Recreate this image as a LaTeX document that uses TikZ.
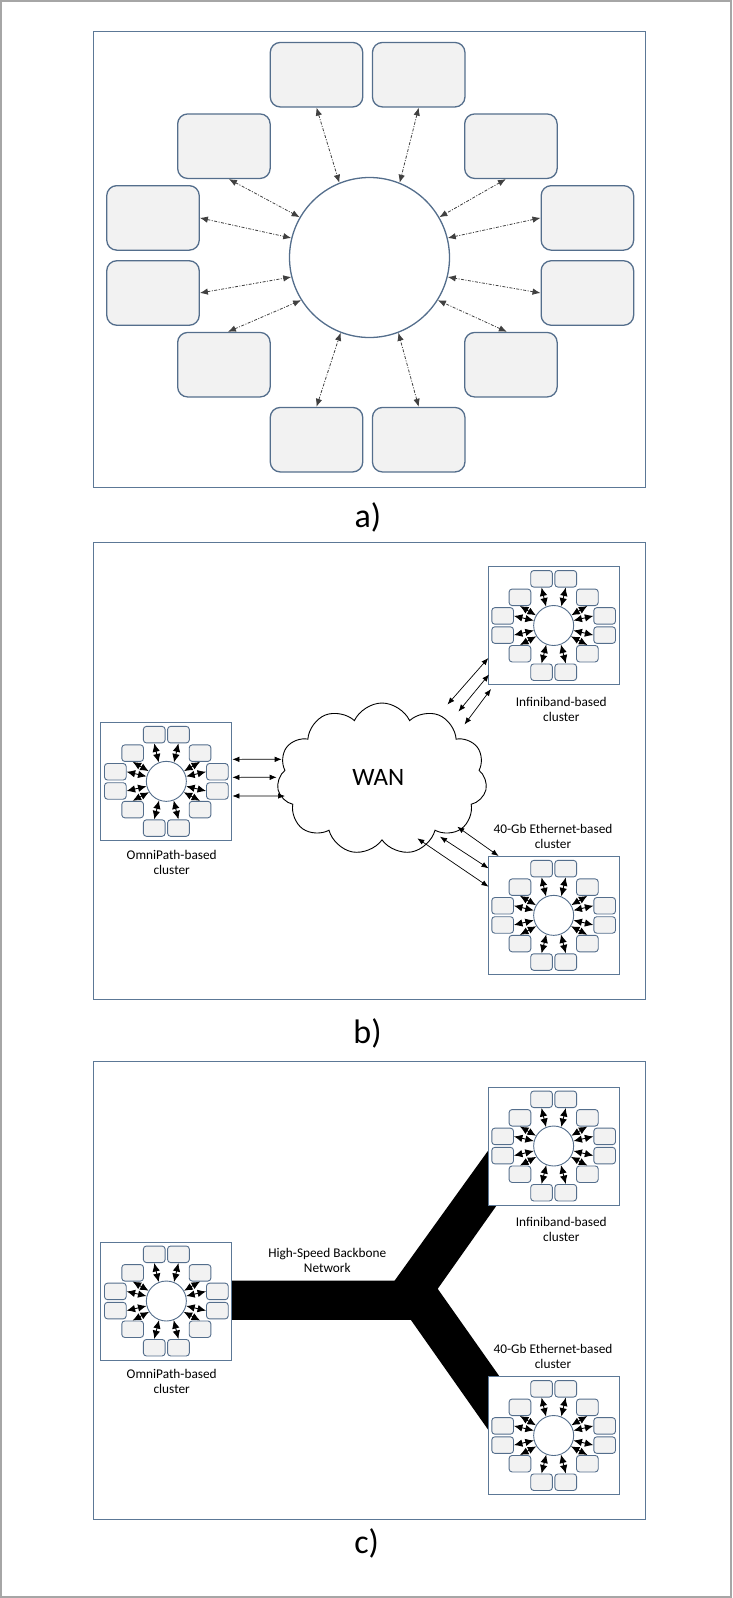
\documentclass[tikz,border=0pt]{standalone}
\usepackage{fontspec}
\setmainfont{Carlito}
\usetikzlibrary{arrows.meta,shapes.geometric,shapes.symbols,calc}

\definecolor{boxblue}{RGB}{84,110,140}
\definecolor{framec}{RGB}{92,120,150}
\definecolor{boxfill}{RGB}{242,242,242}

\tikzset{
 bigbox/.style={draw=boxblue, line width=1.3pt, fill=boxfill, rounded corners=10pt, minimum width=92.5pt, minimum height=64.5pt, inner sep=0pt},
 hubbig/.style={circle, draw=boxblue, line width=1.3pt, fill=white, minimum size=160pt, inner sep=0pt},
 darr/.style={{Latex[length=8pt,width=6.5pt]}-{Latex[length=8pt,width=6.5pt]}, draw=black!75, line width=0.8pt, dash pattern=on 3pt off 1.5pt on 1pt off 1.5pt},
 panel/.style={draw=framec, line width=1.3pt},
 minibox/.style={draw=boxblue, line width=0.9pt, fill=boxfill, rounded corners=3pt, minimum width=21.7pt, minimum height=16.5pt, inner sep=0pt},
 minihub/.style={circle, draw=boxblue, line width=0.9pt, fill=white, minimum size=40pt, inner sep=0pt},
 miniarr/.style={{Latex[length=8.5pt,width=7.5pt]}-{Latex[length=8.5pt,width=7.5pt]}, black, line width=0.9pt},
 clframe/.style={draw=framec, line width=1pt, fill=white, minimum width=131pt, minimum height=118pt, inner sep=0pt},
 wanarr/.style={{Latex[length=7pt,width=5.5pt]}-{Latex[length=7pt,width=5.5pt]}, black, line width=0.7pt},
 lbl/.style={font=\fontsize{13.3}{15}\selectfont, align=center, inner sep=0pt},
 plabel/.style={font=\fontsize{34}{40}\selectfont, anchor=base, inner sep=0pt},
}

\newcommand{\minicl}[3]{%
 \begin{scope}[shift={(#2,#3)}]
  \node[clframe] (#1) at (0,0) {};
  \node[minihub] (#1h) at (0,0) {};
  \node[minibox] (#1t1) at (-12.1,-46.7) {};
  \node[minibox] (#1t2) at (12.1,-46.7) {};
  \node[minibox] (#1d1) at (-33.7,-28.2) {};
  \node[minibox] (#1d2) at (33.7,-28.2) {};
  \node[minibox] (#1s1) at (-51,-9.6) {};
  \node[minibox] (#1s2) at (51,-9.6) {};
  \node[minibox] (#1s3) at (-51,9.6) {};
  \node[minibox] (#1s4) at (51,9.6) {};
  \node[minibox] (#1l1) at (-33.7,28.2) {};
  \node[minibox] (#1l2) at (33.7,28.2) {};
  \node[minibox] (#1b1) at (-12.1,46.7) {};
  \node[minibox] (#1b2) at (12.1,46.7) {};
  \draw[miniarr] (#1t1.south) -- (#1h.112);
  \draw[miniarr] (#1t2.south) -- (#1h.68);
  \draw[miniarr] (#1d1.south) -- (#1h.150);
  \draw[miniarr] (#1d2.south) -- (#1h.30);
  \draw[miniarr] (#1s1.east) -- (#1h.166);
  \draw[miniarr] (#1s2.west) -- (#1h.14);
  \draw[miniarr] (#1s3.east) -- (#1h.194);
  \draw[miniarr] (#1s4.west) -- (#1h.346);
  \draw[miniarr] (#1l1.north) -- (#1h.212);
  \draw[miniarr] (#1l2.north) -- (#1h.328);
  \draw[miniarr] (#1b1.north) -- (#1h.249);
  \draw[miniarr] (#1b2.north) -- (#1h.291);
 \end{scope}%
}

\begin{document}
\begin{tikzpicture}[x=1pt,y=-1pt]
\useasboundingbox (0,0) rectangle (732,1598);
\draw[gray!70, line width=2pt] (1,1) rectangle (731,1597);

% ---------------- panel a ----------------
\draw[panel] (93.5,31.7) rectangle (645.7,487.3);
\node[hubbig] (hub) at (369.5,257.5) {};
\node[bigbox] (aT1) at (316.5,74.7) {};
\node[bigbox] (aT2) at (418.7,74.7) {};
\node[bigbox] (aD1) at (223.9,146.2) {};
\node[bigbox] (aD2) at (510.9,146.2) {};
\node[bigbox] (aS1) at (153,217.9) {};
\node[bigbox] (aS2) at (587.4,217.9) {};
\node[bigbox] (aS3) at (153,293) {};
\node[bigbox] (aS4) at (587.4,293) {};
\node[bigbox] (aL1) at (223.9,364.7) {};
\node[bigbox] (aL2) at (510.9,364.7) {};
\node[bigbox] (aB1) at (316.5,439.7) {};
\node[bigbox] (aB2) at (418.7,439.7) {};
\draw[darr] (aT1.south) -- (hub.112);
\draw[darr] (aT2.south) -- (hub.68);
\draw[darr] ($(aD1.south)+(5,0)$) -- (hub.150);
\draw[darr] ($(aD2.south)+(-5,0)$) -- (hub.30);
\draw[darr] (aS1.east) -- (hub.166);
\draw[darr] (aS2.west) -- (hub.14);
\draw[darr] (aS3.east) -- (hub.194);
\draw[darr] (aS4.west) -- (hub.346);
\draw[darr] ($(aL1.north)+(4,0)$) -- (hub.212);
\draw[darr] ($(aL2.north)+(-4,0)$) -- (hub.328);
\draw[darr] (aB1.north) -- (hub.249);
\draw[darr] (aB2.north) -- (hub.291);
\node[plabel] (la) at (368,527) {a)};

% ---------------- panel b ----------------
\draw[panel] (93.5,542.7) rectangle (645.7,999.3);
\node[cloud, draw=black, line width=0.9pt, fill=white, cloud puffs=11, cloud puff arc=130, aspect=1.38, minimum width=210pt, minimum height=152pt, inner sep=0pt] (wan) at (382,779) {};
\node[font=\fontsize{25}{30}\selectfont, inner sep=0pt] (wantxt) at (378.3,777) {WAN};
\minicl{bI}{553.65}{625.5}
\minicl{bE}{553.65}{915.35}
\minicl{bO}{166.35}{781.35}
\node[lbl] (bIl) at (561.3,709.5) {Infiniband-based\\cluster};
\node[lbl] (bEl) at (553,836.5) {40-Gb Ethernet-based\\cluster};
\node[lbl] (bOl) at (171.7,862) {OmniPath-based\\cluster};
% WAN links
\coordinate (wl1) at (281.7,759.3);
\coordinate (wl2) at (276.7,777.3);
\coordinate (wl3) at (285,796);
\draw[wanarr] ($(bO.east)+(0,-22)$) -- (wl1);
\draw[wanarr] ($(bO.east)+(0,-4)$) -- (wl2);
\draw[wanarr] ($(bO.east)+(0,14.6)$) -- (wl3);
\coordinate (wu1) at (447.5,704.5);
\coordinate (wu2) at (458.5,711.5);
\coordinate (wu3) at (464.5,724.5);
\coordinate (iu1) at (488.3,658);
\coordinate (iu2) at (489,674.5);
\coordinate (iu3) at (491,689);
\draw[wanarr] (wu1) -- (iu1);
\draw[wanarr] (wu2) -- (iu2);
\draw[wanarr] (wu3) -- (iu3);
\coordinate (wd1) at (457.3,826.7);
\coordinate (wd2) at (440,836.7);
\coordinate (wd3) at (417.3,838.3);
\coordinate (ed1) at (498.6,856);
\coordinate (ed2) at (488.5,868.3);
\coordinate (ed3) at (488.5,886.7);
\draw[wanarr] (wd1) -- (ed1);
\draw[wanarr] (wd2) -- (ed2);
\draw[wanarr] (wd3) -- (ed3);
\node[plabel] (lb) at (367.5,1043) {b)};

% ---------------- panel c ----------------
\draw[panel] (93.5,1061.7) rectangle (645.7,1519.2);
\fill[black] (225,1280.5) -- (394.7,1280.5) -- (520,1106.3) -- (540,1144) -- (437.7,1288.8) -- (540,1433.9) -- (520,1475) -- (410.8,1319.8) -- (225,1319.8) -- cycle;
\minicl{cI}{553.65}{1146}
\minicl{cE}{553.65}{1435.5}
\minicl{cO}{166.35}{1301}
\node[lbl] (cIl) at (561.3,1229.5) {Infiniband-based\\cluster};
\node[lbl] (cEl) at (553,1356) {40-Gb Ethernet-based\\cluster};
\node[lbl] (cOl) at (171.7,1381.7) {OmniPath-based\\cluster};
\node[lbl] (bbl) at (327.3,1260) {High-Speed Backbone\\Network};
\node[plabel] (lc) at (366.7,1553) {c)};
\end{tikzpicture}
\end{document}
